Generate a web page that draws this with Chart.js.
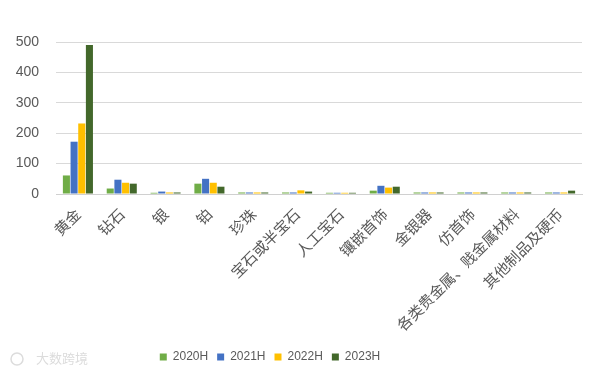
<!DOCTYPE html>
<html>
<head>
<meta charset="utf-8">
<script src="https://cdn.jsdelivr.net/npm/chart.js@4.4.0/dist/chart.umd.min.js"></script>
<style>
  html, body { margin: 0; padding: 0; background: #fff; }
  #wrap { width: 599px; height: 373px; position: relative; }
</style>
</head>
<body>
<div id="wrap"><canvas id="chart"></canvas></div>
<script>
const categories = ['黄金', '钻石', '银', '铂', '珍珠', '宝石或半宝石', '人工宝石', '镶嵌首饰', '金银器', '仿首饰', '各类贵金属、贱金属材料', '其他制品及硬币'];
const seriesNames = ['2020H', '2021H', '2022H', '2023H'];
const values2020 = [61, 18, 4, 34, 5, 5, 4, 11, 5, 5, 5, 5];
const values2021 = [172, 47, 8, 50, 5, 5, 4, 27, 5, 5, 5, 5];
const values2022 = [232, 37, 5, 37, 5, 12, 4, 21, 5, 5, 5, 5];
const values2023 = [490, 34, 5, 24, 5, 8, 4, 24, 5, 5, 5, 11];
const yTicks = [0, 100, 200, 300, 400, 500];
const colors = ['#70AD47', '#4472C4', '#FFC000', '#43682B'];

// faint watermark bottom-left
const watermark = {
    id: 'watermark',
    afterLayout(chart) {
        // legend sits a bit left of centre in the original
        chart.legend.left -= 26;
        chart.legend.right -= 26;
    },
    afterDraw(chart) {
        const ctx = chart.ctx;
        ctx.save();
        ctx.fillStyle = '#dcdcdc';
        ctx.strokeStyle = '#dcdcdc';
        ctx.font = '13px "Noto Sans CJK SC"';
        ctx.textBaseline = 'middle';
        ctx.fillText('大数跨境', 36, 358);
        ctx.lineWidth = 1.5;
        ctx.beginPath();
        ctx.arc(17, 359, 6, 0, Math.PI * 2);
        ctx.stroke();
        ctx.restore();
    }
};

new Chart(document.getElementById('chart'), {
    type: 'bar',
    data: {
        labels: categories,
        datasets: [values2020, values2021, values2022, values2023].map((d, i) => ({
            label: seriesNames[i],
            data: d,
            backgroundColor: colors[i],
            categoryPercentage: 0.7,
            barPercentage: 0.92
        }))
    },
    options: {
        responsive: true,
        maintainAspectRatio: false,
        animation: false,
        layout: { padding: { top: 42, right: 17, left: 10, bottom: 0 } },
        plugins: {
            tooltip: { enabled: false },
            legend: {
                position: 'bottom',
                labels: {
                    boxWidth: 7,
                    boxHeight: 7,
                    padding: 9,
                    color: '#595959',
                    font: { size: 12, family: 'Liberation Sans' }
                }
            }
        },
        scales: {
            y: {
                min: 0,
                max: 500,
                afterBuildTicks(scale) { scale.ticks = yTicks.map(v => ({ value: v })); },
                afterFit(scale) { scale.width = 46; },
                border: { display: false },
                grid: { color: '#d9d9d9', drawTicks: false },
                ticks: {
                    padding: 17,
                    color: '#595959',
                    font: { size: 14, family: 'Liberation Sans' }
                }
            },
            x: {
                afterFit(scale) { scale.height = 148; },
                border: { color: '#d0d0d0' },
                grid: { display: false },
                ticks: {
                    minRotation: 45,
                    maxRotation: 45,
                    autoSkip: false,
                    color: '#595959',
                    font: { size: 15, family: 'Noto Sans CJK SC' }
                }
            }
        }
    },
    plugins: [watermark]
});
</script>
</body>
</html>
